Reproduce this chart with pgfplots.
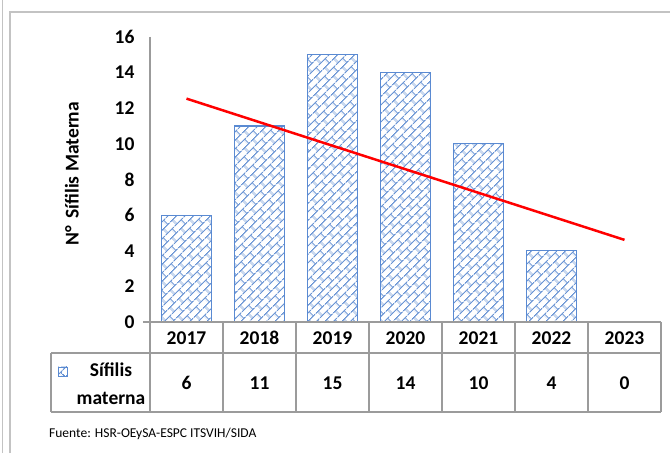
\documentclass[border=0pt]{standalone}
\usepackage{pgfplots}
\pgfplotsset{compat=1.18}
\usepackage{fontspec}
\setmainfont{Carlito}
\usetikzlibrary{patterns.meta}
\definecolor{barblue}{RGB}{90,138,210}
\definecolor{patblue}{RGB}{105,148,212}
\definecolor{tgray}{RGB}{155,155,155}
\definecolor{fgray}{RGB}{195,195,195}
\tikzdeclarepattern{
  name=diagbrick,
  type=uncolored,
  bounding box={(0pt,0pt) and (13pt,13pt)},
  tile size={(13pt,13pt)},
  tile transformation={rotate=45},
  code={
    \draw[line width=1.2pt] (0pt,2pt) -- (13pt,2pt);
    \draw[line width=1.2pt] (0pt,8.5pt) -- (13pt,8.5pt);
    \draw[line width=1.2pt] (3pt,2pt) -- (3pt,8.5pt);
    \draw[line width=1.2pt] (9.5pt,8.5pt) -- (9.5pt,13pt);
    \draw[line width=1.2pt] (9.5pt,0pt) -- (9.5pt,2pt);
  }
}
\newcommand{\bft}{\bfseries\fontsize{19.5}{20}\selectfont}
\begin{document}
\begin{tikzpicture}[x=1pt,y=1pt]
\useasboundingbox (0,0) rectangle (670,453);
\fill[white] (0,0) rectangle (670,453);
\draw[fgray,line width=0.8pt] (2.5,0)--(2.5,453);
\draw[fgray,line width=1.3pt] (10,0)--(10,441)--(670,441);
\begin{axis}[
  at={(150pt,131pt)}, anchor=south west,
  scale only axis, width=511pt, height=285pt,
  xmin=-0.5, xmax=6.5, ymin=0, ymax=16,
  ytick={0,2,...,16}, xtick=\empty,
  axis line style={draw=none},
  major tick length=0pt,
  /pgf/number format/assume math mode=true,
  yticklabel style={font=\bft, xshift=-12pt},
  clip=false,
]
\addplot[ybar, bar width=50pt, draw=barblue, line width=1.2pt,
  pattern=diagbrick, pattern color=patblue]
  coordinates {(0,6) (1,11) (2,15) (3,14) (4,10) (5,4)};
\addplot[red, line width=2.5pt] coordinates {(0,12.54) (6,4.61)};
\node[rotate=90, font=\bft]
  at (axis description cs:-0.153,0.52) {N°\,\ Sífilis Materna};
\end{axis}
% table
\begin{scope}[tgray, line width=1.3pt]
\draw (150,416) -- (150,41);
\foreach \k in {1,...,7} { \draw ({150+73*\k},131) -- ({150+73*\k},41); }
\draw (143,131) -- (661,131);
\draw (51,100) -- (661,100);
\draw (51,41) -- (661,41);
\draw (51,100) -- (51,41);
\end{scope}
\foreach \yr [count=\k from 0] in {2017,2018,2019,2020,2021,2022,2023} {
  \node[font=\bft] at ({186.5+73*\k},115) {\yr};
}
\foreach \v [count=\k from 0] in {6,11,15,14,10,4,0} {
  \node[font=\bft] at ({186.5+73*\k},70) {\v};
}
\draw[barblue, line width=0.8pt, pattern=diagbrick, pattern color=patblue] (58,77) rectangle (67,86);
\node[font=\bft] at (111,83) {Sífilis};
\node[font=\bft] at (111,55) {materna};
\node[anchor=west, inner sep=0pt, font=\fontsize{13.5}{14}\selectfont] at (49,19) {Fuente: HSR-OEySA-ESPC ITSVIH/SIDA};
\end{tikzpicture}
\end{document}
